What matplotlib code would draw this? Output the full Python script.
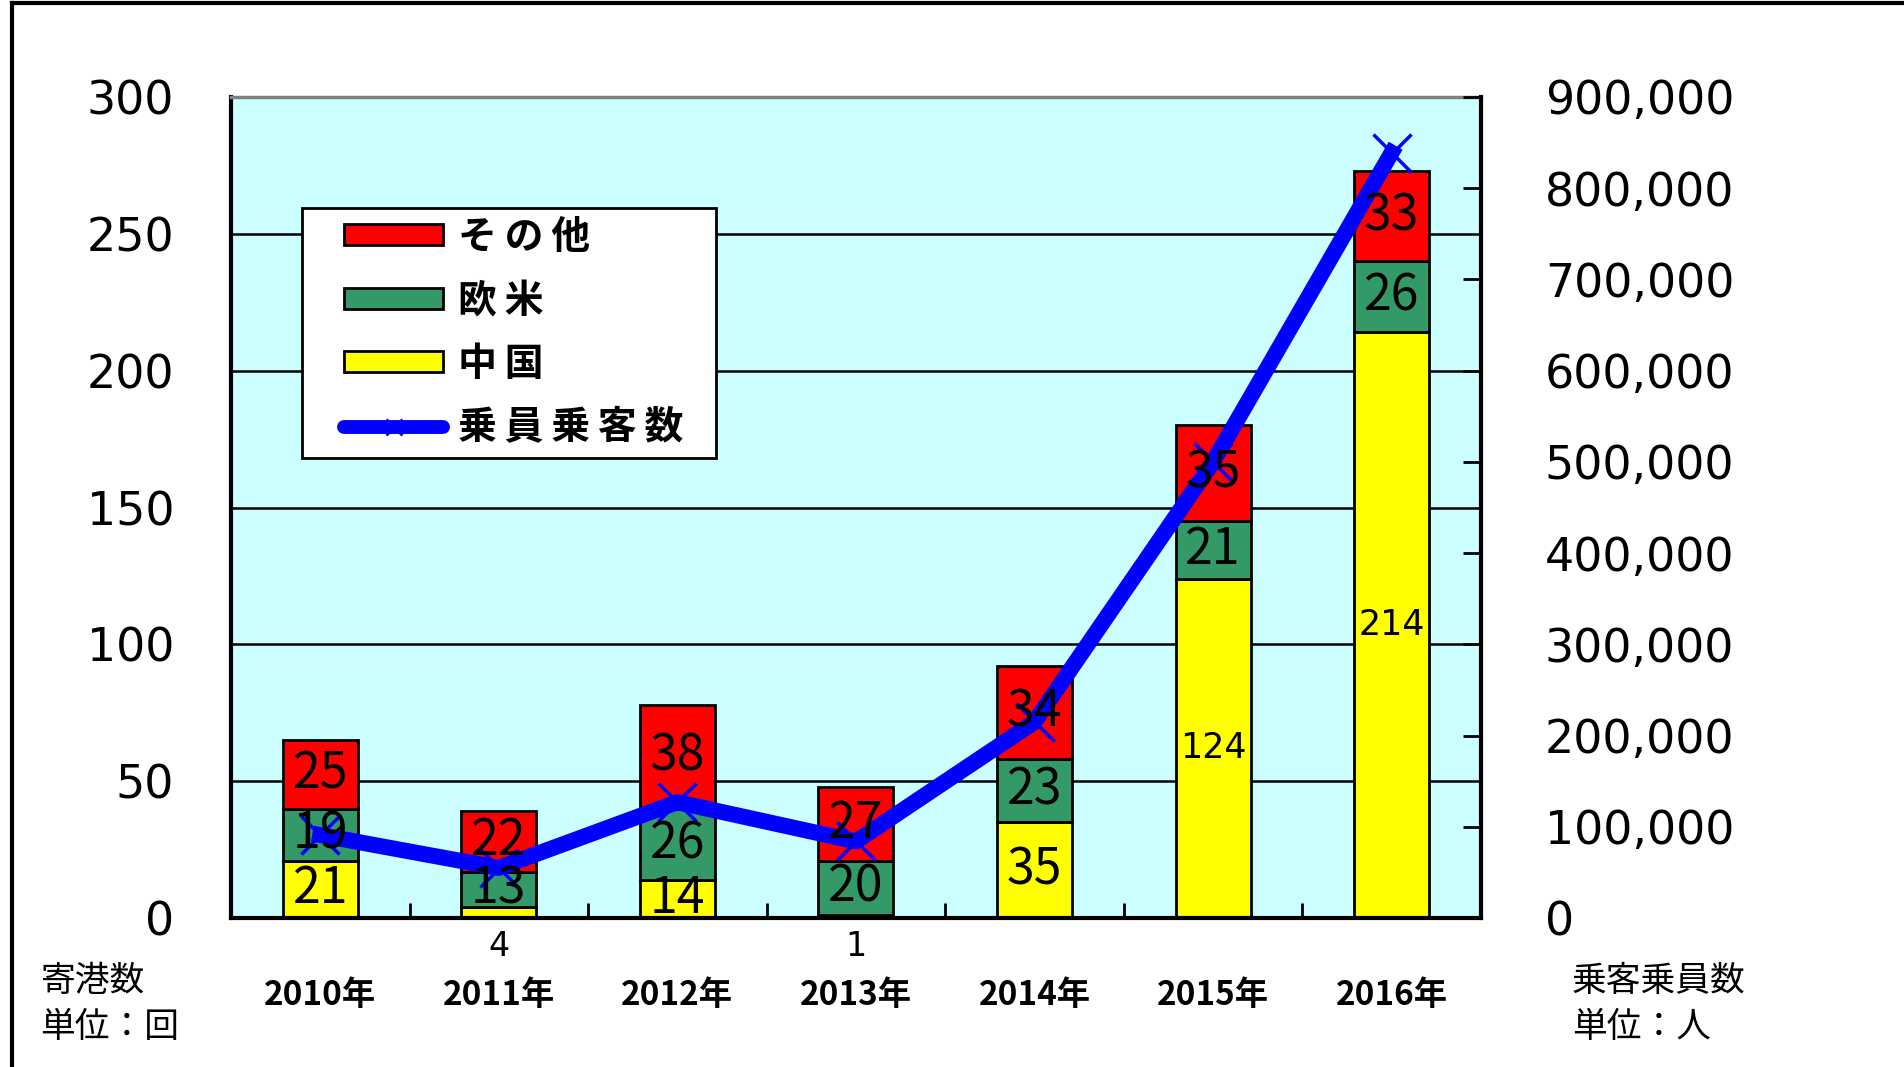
"""寄港数（国・地域別）と乗客乗員数の推移 — 積み上げ棒 + 折れ線（2軸）"""

import matplotlib
matplotlib.use("Agg")
import matplotlib.pyplot as plt
import numpy as np
from matplotlib.lines import Line2D
from matplotlib.patches import Patch, Rectangle
from matplotlib.ticker import FuncFormatter, MultipleLocator

plt.rcParams["font.family"] = ["Noto Sans CJK JP", "DejaVu Sans"]

# --- データ ---
years = ["2010年", "2011年", "2012年", "2013年", "2014年", "2015年", "2016年"]
china = [21, 4, 14, 1, 35, 124, 214]
western = [19, 13, 26, 20, 23, 21, 26]
others = [25, 22, 38, 27, 34, 35, 33]
passengers = [91000, 55000, 127000, 84000, 215000, 500000, 839000]

C_RED = "#FF0000"
C_GREEN = "#339966"
C_YELLOW = "#FFFF00"
C_BLUE = "#0000FF"
C_BG = "#CCFFFF"
NUM_FONT = ["DejaVu Sans"]

fig = plt.figure(figsize=(19.04, 10.67), dpi=100)
ax = fig.add_axes([0.1213, 0.1396, 0.6565, 0.7695])
ax.set_facecolor(C_BG)

x = np.arange(len(years))
w = 0.42
china = np.array(china)
western = np.array(western)
others = np.array(others)

ax.bar(x, china, w, color=C_YELLOW, edgecolor="black", lw=2, zorder=2)
ax.bar(x, western, w, bottom=china, color=C_GREEN, edgecolor="black", lw=2, zorder=2)
ax.bar(x, others, w, bottom=china + western, color=C_RED, edgecolor="black", lw=2, zorder=2)

ax.set_xlim(-0.5, len(years) - 0.5)
ax.set_ylim(0, 300)
ax.yaxis.set_major_locator(MultipleLocator(50))
ax.yaxis.grid(True, color="black", lw=1.8)
ax.set_axisbelow(True)
ax.tick_params(axis="y", length=0, pad=41, labelsize=33)
for lab in ax.get_yticklabels():
    lab.set_family(NUM_FONT)

ax.set_xticks(x)
ax.set_xticklabels(years, fontweight="bold", fontsize=24)
ax.tick_params(axis="x", which="major", length=0, pad=44)
ax.set_xticks(x[:-1] + 0.5, minor=True)
ax.tick_params(axis="x", which="minor", direction="in", length=11, width=2)

ax.spines["right"].set_visible(False)
ax.spines["top"].set_color("#808080")
ax.spines["top"].set_linewidth(2.5)
ax.spines["left"].set_linewidth(3)
ax.spines["bottom"].set_linewidth(3)

# --- 右軸：乗客乗員数 ---
ax2 = ax.twinx()
ax2.plot(x, passengers, color=C_BLUE, lw=11.5, marker="x", ms=27, mew=2.5, zorder=3)
ax2.set_ylim(0, 900000)
ax2.yaxis.set_major_locator(MultipleLocator(100000))
ax2.yaxis.set_major_formatter(FuncFormatter(lambda v, _: f"{int(v):,}"))
ax2.tick_params(axis="y", direction="in", length=13, width=2, pad=46, labelsize=33)
for lab in ax2.get_yticklabels():
    lab.set_family(NUM_FONT)
for s in ["top", "left", "bottom"]:
    ax2.spines[s].set_visible(False)
ax2.spines["right"].set_linewidth(3)


# --- 棒のラベル ---
def seg_label(xi, y, val, size=36, family=None):
    ax2.text(xi, y, str(val), transform=ax.transData, ha="center", va="center",
             fontsize=size, family=family, zorder=5, clip_on=False)


for i in range(len(years)):
    if china[i] >= 100:
        seg_label(x[i], china[i] / 2, china[i], size=25, family=NUM_FONT)
    elif china[i] >= 10:
        seg_label(x[i], china[i] / 2, china[i])
    else:
        seg_label(x[i], -10.5, china[i], size=24, family=NUM_FONT)
    seg_label(x[i], china[i] + western[i] / 2, western[i])
    seg_label(x[i], china[i] + western[i] + others[i] / 2, others[i])

# --- 凡例（枠は別に描く） ---
ax2.add_patch(Rectangle((0.057, 0.5603), 0.3312, 0.3045, transform=ax2.transAxes,
                        facecolor="white", edgecolor="black", lw=2, zorder=6))
handles = [
    Patch(facecolor=C_RED, edgecolor="black", lw=2),
    Patch(facecolor=C_GREEN, edgecolor="black", lw=2),
    Patch(facecolor=C_YELLOW, edgecolor="black", lw=2),
    Line2D([], [], color=C_BLUE, lw=10, marker="x", ms=12, mew=2, solid_capstyle="round"),
]
labels = ["そ\u2009の\u2009他", "欧\u2009米", "中\u2009国", "乗\u2009員\u2009乗\u2009客\u2009数"]
leg = ax2.legend(handles, labels, loc="upper left", bbox_to_anchor=(0.0904, 0.853),
                 prop={"weight": "bold", "size": 28}, frameon=False,
                 handlelength=2.55, handleheight=0.44, labelspacing=0.63,
                 borderpad=0, handletextpad=0.39, borderaxespad=0)
leg.set_zorder(7)

# --- 軸の単位 ---
fig.text(40 / 1904, 1 - 981 / 1067, "寄港数", va="center", fontsize=25)
fig.text(40 / 1904, 1 - 1027 / 1067, "単位：回", va="center", fontsize=25)
fig.text(1572 / 1904, 1 - 981 / 1067, "乗客乗員数", va="center", fontsize=25)
fig.text(1572 / 1904, 1 - 1027 / 1067, "単位：人", va="center", fontsize=25)

# 外枠（左と上のみ見えている）
fig.add_artist(Line2D([0.0063, 0.0063], [0, 0.997], transform=fig.transFigure, color="black", lw=3))
fig.add_artist(Line2D([0.0063, 1], [0.997, 0.997], transform=fig.transFigure, color="black", lw=3))

fig.savefig("out.png", dpi=100)
